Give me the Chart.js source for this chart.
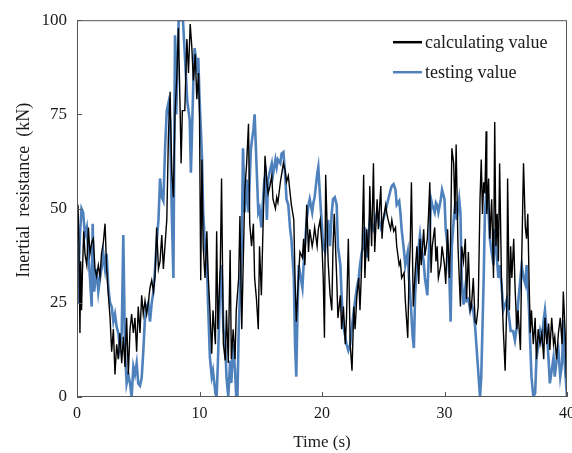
<!DOCTYPE html>
<html><head><meta charset="utf-8">
<script src="https://cdn.jsdelivr.net/npm/chart.js@4"></script>
<style>html,body{margin:0;padding:0;background:#fff;}</style>
</head><body>
<canvas id="c" width="572" height="453"></canvas>
<script>
// ---- data ----
const seriesLabels = ['calculating value', 'testing value'];
const xTicks = [0, 10, 20, 30, 40];
const yTicks = [0, 25, 50, 75, 100];
const xTitle = 'Time (s)';
const yTitle = 'Inertial  resistance  (kN)';

const calcTime = [0,0.08,0.16,0.24,0.3,0.37,0.45,0.55,0.65,0.8,0.93,1.06,1.2,1.33,1.47,1.6,1.74,1.88,2.0,2.15,2.29,2.42,2.56,2.7,2.83,2.97,3.1,3.24,3.37,3.5,3.65,3.78,3.92,4.05,4.19,4.33,4.46,4.6,4.73,4.87,5.0,5.14,5.28,5.41,5.55,5.69,5.82,5.96,6.1,6.24,6.37,6.5,6.65,6.78,6.92,7.05,7.2,7.33,7.46,7.6,7.73,7.87,8.0,8.15,8.28,8.42,8.5,8.6,8.8,8.97,9.1,9.24,9.37,9.5,9.65,9.78,9.92,10.0,10.1,10.2,10.3,10.45,10.6,10.7,10.85,11.0,11.1,11.3,11.4,11.5,11.7,11.8,11.95,12.1,12.2,12.35,12.5,12.6,12.75,12.9,13.0,13.2,13.3,13.45,13.6,13.7,13.85,14.0,14.1,14.25,14.4,14.5,14.65,14.8,14.9,15.05,15.2,15.35,15.5,15.6,15.75,15.9,16.0,16.2,16.3,16.4,16.6,16.7,16.85,17.0,17.1,17.25,17.4,17.5,17.7,17.8,17.9,18.1,18.2,18.4,18.5,18.6,18.75,18.9,19.0,19.2,19.3,19.4,19.6,19.7,19.85,20.0,20.1,20.2,20.3,20.5,20.65,20.8,20.9,21.0,21.2,21.3,21.5,21.6,21.75,21.9,22.0,22.15,22.3,22.45,22.6,22.7,22.85,23.0,23.1,23.25,23.4,23.5,23.65,23.8,23.9,24.05,24.2,24.3,24.5,24.6,24.8,24.9,25.0,25.2,25.3,25.4,25.6,25.7,25.85,26.0,26.1,26.3,26.4,26.5,26.7,26.8,27.0,27.1,27.2,27.3,27.45,27.6,27.75,27.9,28.0,28.1,28.3,28.4,28.6,28.7,28.8,28.9,29.0,29.2,29.3,29.4,29.5,29.7,29.8,30.0,30.1,30.25,30.4,30.5,30.6,30.75,30.85,30.95,31.1,31.3,31.4,31.55,31.7,31.8,31.95,32.1,32.2,32.35,32.5,32.6,32.75,32.9,33.0,33.1,33.2,33.3,33.4,33.45,33.6,33.7,33.85,34.0,34.1,34.2,34.3,34.4,34.5,34.65,34.8,34.95,35.1,35.15,35.3,35.4,35.5,35.65,35.75,35.9,36.0,36.2,36.3,36.45,36.6,36.7,36.8,36.9,37.0,37.1,37.25,37.4,37.5,37.65,37.8,37.95,38.1,38.2,38.35,38.5,38.6,38.75,38.9,39.0,39.15,39.3,39.45,39.6,39.7,39.85,39.95];
const calcValue = [43,51,40,17,36,23,34,44,38,35,45,38,41,42,34,32,35,32,38,41,46,34,27,21,12,18,6,14,10,17,9,16,8,21,6,18,22,17,21,12,24,17,27,22,25.5,22,25,29,31,28,32,45,34,36,43,34,41,47,69,81,60,53,75,85,98,76,62,76,76,95,86,99,93,84,91,79,86,75,31,63,40,31.6,44,33,23,11.5,23,14,44,18,35,58,14,9.7,23,9,39,10,18,10,23,31.6,48,18,40,55,62,72.5,46,40,46,31.6,26,18,40,27,47,64,57,54,56,58.7,52.5,50,53,51.6,57,59,62,60,57,58.7,54,51,47,31,20,33,38.5,37,42,35,51,38.5,44.5,40,42,45,40,44.5,47,40,31.6,15.7,59,36,27.5,23,40,48.6,31.6,21,27,18,24,14,21,42,14,7,24,18,27,31.6,23,36,59,31.6,44.5,36,56,40,62,38.5,52.5,44.5,56,42,47,51,48.6,47,44.5,47,44,45,40,35,36,31.6,33,25.6,15.7,31.6,40,57,24,33,40,30,42,35,44.5,37.5,42,48.6,57,33,40,45,36,40,31.6,35,40,35,30,44.5,31.6,42,66,62,48.6,67,40,24,40,36,42,26,38.5,23,24,31.6,20,19.5,24,52.5,63,48.6,57,54,70.5,48.6,58,42,52.5,31.6,73,40,48.6,36,62,31.6,18,7,27,58,23,40,31.6,42,30,18,23,12.5,36,62,45,42,48.6,31.6,17,23,14,21,10,18,14,17,10,21,14,19.5,12.5,21,14,16,10,17,21,14,28,17,5];

const testTime = [0,0.08,0.15,0.24,0.37,0.5,0.65,0.8,0.93,1.06,1.2,1.28,1.4,1.6,1.74,1.88,2.0,2.15,2.29,2.42,2.56,2.7,2.83,2.97,3.1,3.24,3.37,3.5,3.65,3.78,3.92,4.05,4.19,4.33,4.46,4.6,4.73,4.87,5.0,5.14,5.28,5.41,5.55,5.69,5.82,5.96,6.1,6.24,6.37,6.5,6.65,6.78,6.92,7.05,7.2,7.33,7.46,7.6,7.73,7.87,8.0,8.1,8.3,8.65,8.8,9.0,9.2,9.3,9.5,9.6,9.8,9.9,10.0,10.2,10.3,10.45,10.6,10.7,10.85,11.0,11.1,11.3,11.4,11.5,11.6,11.7,11.8,11.95,12.1,12.2,12.35,12.5,12.6,12.75,12.9,13.0,13.1,13.2,13.3,13.45,13.55,13.7,13.85,14.0,14.2,14.4,14.5,14.65,14.8,14.9,15.05,15.2,15.3,15.4,15.5,15.6,15.75,15.9,16.0,16.2,16.3,16.4,16.6,16.7,16.85,17.0,17.1,17.25,17.4,17.5,17.7,17.8,17.9,18.0,18.1,18.2,18.4,18.5,18.6,18.75,18.9,19.0,19.2,19.3,19.4,19.6,19.7,19.85,20.0,20.1,20.25,20.4,20.5,20.65,20.8,20.9,21.05,21.2,21.3,21.5,21.6,21.75,21.9,22.0,22.15,22.3,22.4,22.6,22.7,22.85,23.0,23.1,23.25,23.4,23.5,23.65,23.9,24.2,24.5,24.8,25.0,25.3,25.6,25.7,25.85,26.0,26.1,26.3,26.4,26.5,26.7,26.8,27.0,27.1,27.25,27.4,27.5,27.6,27.75,27.9,28.0,28.1,28.3,28.4,28.6,28.7,28.9,29.0,29.2,29.3,29.4,29.5,29.7,29.8,30.0,30.1,30.25,30.4,30.5,30.6,30.8,30.9,31.0,31.2,31.3,31.4,31.55,31.7,31.8,31.95,32.1,32.2,32.35,32.5,32.6,32.75,32.9,33.0,33.2,33.3,33.45,33.6,33.7,33.85,34.0,34.1,34.3,34.4,34.5,34.65,34.8,34.95,35.1,35.2,35.3,35.4,35.6,35.75,35.9,36.0,36.2,36.3,36.45,36.6,36.7,36.9,37.0,37.1,37.25,37.4,37.5,37.65,37.8,37.95,38.1,38.2,38.35,38.5,38.6,38.75,38.9,39.0,39.15,39.3,39.45,39.6,39.7,39.85,40.0];
const testValue = [28,25,35,43,50,49,43,45,38,31.6,24,46,28,34,28,31.6,34,38,34,38,29,25,24,20,22,18.6,17,13,17,43,12,3.6,6,3.6,0,8,6,9,3.6,3,5,12,21,24,25,20,25,28,34,41,47,58,53,52,67,76,78,73.5,50,31.6,96,75,100,100,91,78.6,73.5,59.5,84,92.6,87.5,90,79.5,64,49,40,36,24.5,10.5,5.4,7,1,0,9,20,31.6,35,18,14,5.4,0,9.7,3.7,14,7,0,0,18,27,40,66,49,57.7,49,66,71,75,62,49,50,45,53,57.7,59,47,57.7,60,62,59,63,61,63,62,64.6,65,58.6,52.5,51,44.5,42,31.6,14,5.4,23,35,33,29,35,40,47,51,52.5,49,51.6,53,59,61,52.5,45,40,38.5,44.5,47,40,49,52.5,53,51,40,35,27,18.6,16,14,12.3,14,17.5,23,25.5,29,31.6,35,38.5,40,45,37,47,44.5,49,45,47,51,55,56,56.5,55,51,52,49,44.5,38.5,35,38.5,31.6,24.5,16,13,27,35,40,43,40,36,31.6,27,36,52.5,51,49,51.6,51,49,52.5,55,52.5,44.5,40,31.6,20,40,49,52,47,52.5,49,31.6,24.5,29,25.5,26,23,24.5,23,18.6,14,7,0,5.4,31.6,49,56,49,42,38.5,35,44.5,36,31.6,35,30,23,24.5,26,23,20.5,17.5,17.5,15,18.6,24.5,31.6,35,31.6,30,35,23,14,5.4,0,1,9.7,14,17.5,15,20.5,23,17.5,9.7,3.6,7,10.5,5.4,9.7,12.3,5.4,9,20.5,7,0];

// ---- styles ----
const FONT = "'Liberation Serif', 'Times New Roman', serif";
const TEXT = '#1a1a1a';
const FRAME = '#555555';
const BLACK = '#000000';
const BLUE = '#4f81bd';

const toPoints = (xs, ys) => xs.map((t, i) => ({ x: t, y: ys[i] }));

const framePlugin = {
  id: 'frameAndLegend',
  afterDatasetsDraw(chart) {
    const { ctx, chartArea: a, scales: { x, y } } = chart;
    ctx.save();
    ctx.strokeStyle = FRAME;
    ctx.lineWidth = 1;
    ctx.strokeRect(a.left + 0.5, a.top + 0.5, a.right - a.left - 1, a.bottom - a.top - 1);
    ctx.beginPath();
    yTicks.forEach(v => {
      const py = Math.round(y.getPixelForValue(v)) + 0.5;
      ctx.moveTo(a.left, py); ctx.lineTo(a.left + 5, py);
    });
    xTicks.forEach(v => {
      const px = Math.round(x.getPixelForValue(v)) + 0.5;
      ctx.moveTo(px, a.bottom); ctx.lineTo(px, a.bottom - 5);
    });
    ctx.stroke();
    // y-axis title (sits a little above the axis centre in the reference)
    ctx.save();
    ctx.translate(24, a.top + 170);
    ctx.rotate(-Math.PI / 2);
    ctx.font = '18px ' + FONT;
    ctx.fillStyle = TEXT;
    ctx.textAlign = 'center';
    ctx.textBaseline = 'middle';
    ctx.fillText(yTitle, 0, 0);
    ctx.restore();
    // legend inside the plot, top right
    const lx = a.right - 174, ly = a.top + 22, gap = 30;
    ctx.font = '18px ' + FONT;
    ctx.textBaseline = 'middle';
    ctx.textAlign = 'left';
    chart.data.datasets.forEach((ds, i) => {
      const yy = ly + i * gap;
      ctx.strokeStyle = ds.borderColor;
      ctx.lineWidth = 2.5;
      ctx.beginPath();
      ctx.moveTo(lx, yy); ctx.lineTo(lx + 29, yy);
      ctx.stroke();
      ctx.fillStyle = TEXT;
      ctx.fillText(ds.label, lx + 32, yy + 1);
    });
    ctx.restore();
  }
};

new Chart(document.getElementById('c'), {
  type: 'line',
  data: {
    datasets: [
      { label: seriesLabels[0], data: toPoints(calcTime, calcValue), borderColor: BLACK, borderWidth: 1.4, pointRadius: 0, tension: 0, fill: false },
      { label: seriesLabels[1], data: toPoints(testTime, testValue), borderColor: BLUE, borderWidth: 2.6, pointRadius: 0, tension: 0, fill: false }
    ]
  },
  options: {
    responsive: false,
    animation: false,
    events: [],
    layout: { padding: { top: 15, right: 5, left: 0, bottom: 0 } },
    plugins: { legend: { display: false }, tooltip: { enabled: false } },
    scales: {
      x: {
        type: 'linear', min: 0, max: 40,
        afterBuildTicks(s) { s.ticks = xTicks.map(v => ({ value: v })); },
        afterFit(s) { s.height = 56; s.paddingLeft = 0; s.paddingRight = 0; },
        grid: { display: false, drawTicks: false },
        border: { display: false },
        ticks: { padding: 7, color: TEXT, font: { family: FONT, size: 16 }, maxRotation: 0 },
        title: { display: true, text: xTitle, color: TEXT, font: { family: FONT, size: 17 }, padding: { top: 0, bottom: 0 } }
      },
      y: {
        min: 0, max: 100,
        afterBuildTicks(s) { s.ticks = yTicks.map(v => ({ value: v })); },
        afterFit(s) { s.width = 77; },
        grid: { display: false, drawTicks: false },
        border: { display: false },
        ticks: { padding: 10, color: TEXT, font: { family: FONT, size: 17 } },
        title: { display: false }
      }
    }
  },
  plugins: [framePlugin]
});
</script>
</body></html>
